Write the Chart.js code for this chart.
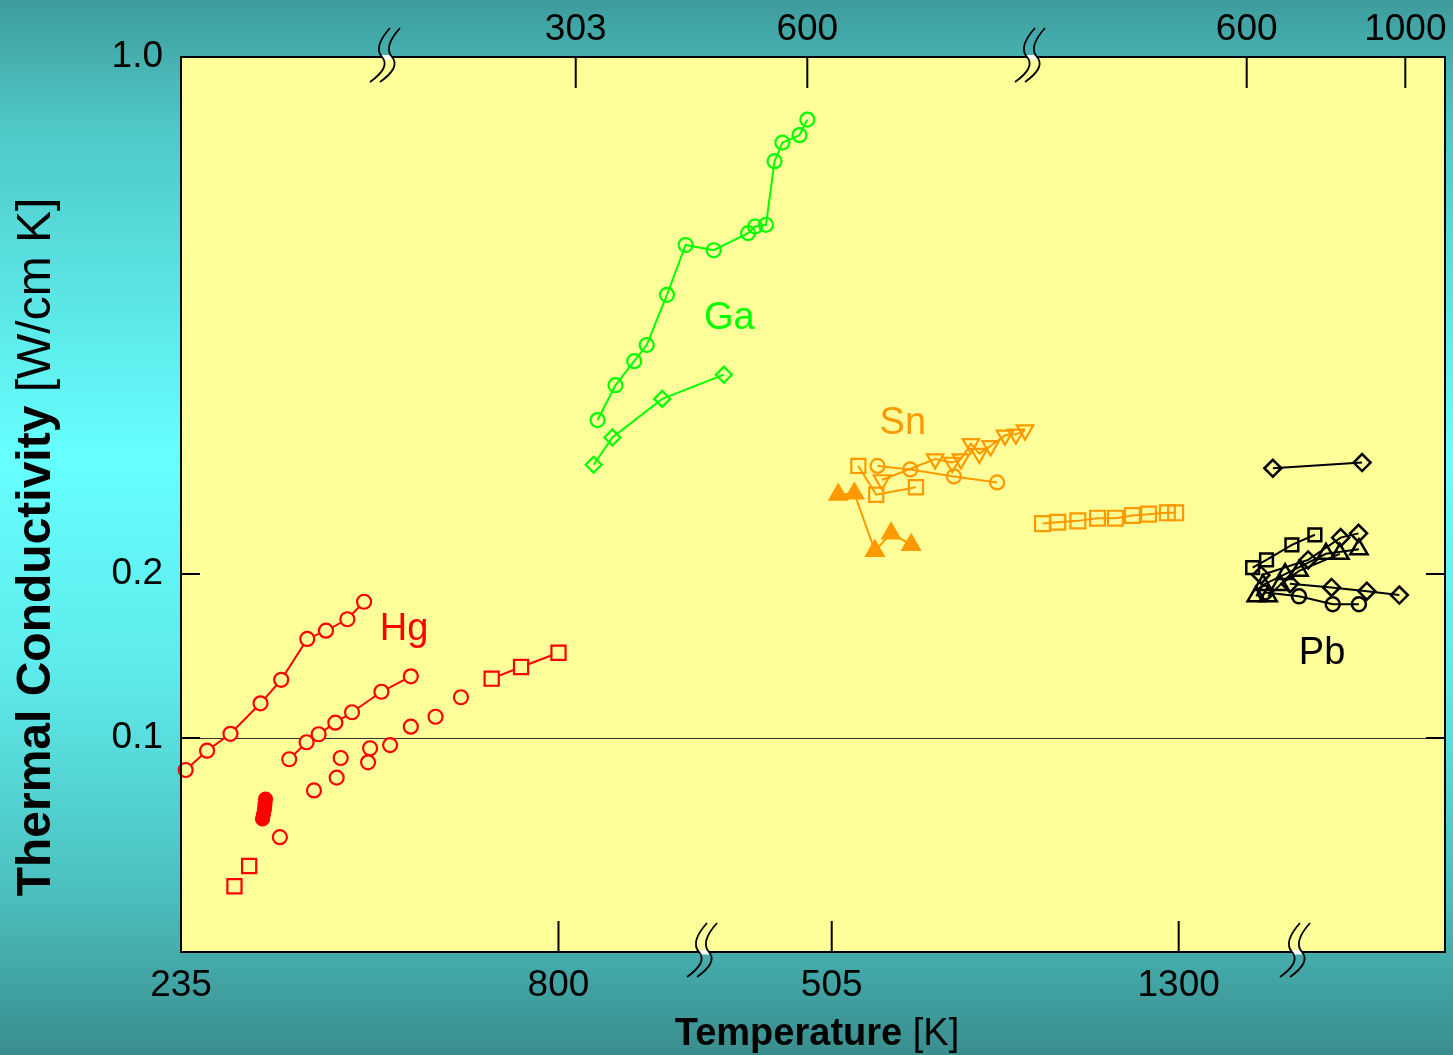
<!DOCTYPE html>
<html>
<head>
<meta charset="utf-8">
<title>Thermal Conductivity of Liquid Metals</title>
<script src="https://cdn.jsdelivr.net/npm/chart.js@4.4.1/dist/chart.umd.min.js"></script>
<style>
  html, body { margin: 0; padding: 0; }
  body {
    width: 1453px; height: 1055px; overflow: hidden;
    background: linear-gradient(to bottom, #3e9c9c 0%, #4fc8c8 12%, #66ffff 43%, #5de8e8 65%, #4bbebe 85%, #3a8d8d 100%);
  }
  canvas { display: block; }
</style>
</head>
<body>
<canvas id="chart" width="1453" height="1055"></canvas>
<script>
// ---- Tick labels ----
const yTicks = [1.0, 0.2, 0.1];
const hgTicks = [235, 800];
const snTicks = [505, 1300];
const gaTicks = [303, 600];
const pbTicks = [600, 1000];

// ---- Mercury (bottom scale, K) ----
const hg1T = [242, 274, 309, 354, 385, 424, 452, 484, 509];
const hg1K = [0.0872, 0.0947, 0.1018, 0.1158, 0.1279, 0.1520, 0.1574, 0.1652, 0.1779];
const hg2T = [397, 423, 441, 466, 491, 535, 579];
const hg2K = [0.0913, 0.0982, 0.1016, 0.1067, 0.1115, 0.1216, 0.1298];
const hg3T = [383, 434, 468, 474, 515, 518, 548, 579, 616, 654];
const hg3K = [0.0654, 0.0799, 0.0844, 0.0918, 0.0901, 0.0957, 0.0970, 0.1049, 0.1094, 0.1188];
const hg4T = [700, 744, 800];
const hg4K = [0.1285, 0.1350, 0.1434];
const hg5T = [315, 337];
const hg5K = [0.0530, 0.0578];
const hg6T = [361.5, 360.7, 360, 358.5, 357];
const hg6K = [0.0770, 0.0754, 0.0738, 0.0722, 0.0707];

// ---- Gallium (top scale, K) ----
const ga1T = [331, 354, 378, 394, 420, 444, 480, 524, 533, 547, 558, 568, 590, 600];
const ga1K = [0.323, 0.360, 0.388, 0.408, 0.477, 0.557, 0.548, 0.578, 0.590, 0.593, 0.723, 0.766, 0.784, 0.823];
const ga2T = [326, 350, 414, 493];
const ga2K = [0.281, 0.306, 0.345, 0.372];

// ---- Tin (bottom scale, K) ----
const sn1T = [566, 607, 698];
const sn1K = [0.280, 0.256, 0.262];
const sn2T = [610, 685, 785, 884];
const sn2K = [0.280, 0.277, 0.271, 0.266];
const sn3T = [620, 742, 781, 801, 824, 843, 869, 902, 927, 948];
const sn3K = [0.268, 0.286, 0.283, 0.286, 0.300, 0.291, 0.298, 0.308, 0.309, 0.313];
const sn4T = [520, 557, 604, 641, 687];
const sn4K = [0.256, 0.257, 0.215, 0.227, 0.219];
const sn5T = [988, 1023, 1069, 1114, 1155, 1194, 1231, 1274, 1293];
const sn5K = [0.234, 0.235, 0.236, 0.238, 0.238, 0.240, 0.241, 0.242, 0.242];

// ---- Lead (top scale, K) ----
const pb1T = [666, 891];
const pb1K = [0.278, 0.283];
const pb2T = [615, 650, 714, 772];
const pb2K = [0.204, 0.209, 0.219, 0.226];
const pb3T = [636, 755, 837, 882];
const pb3K = [0.199, 0.209, 0.224, 0.227];
const pb4T = [624, 641, 697, 800, 883];
const pb4K = [0.182, 0.191, 0.200, 0.213, 0.216];
const pb5T = [654, 684, 732, 835];
const pb5K = [0.182, 0.191, 0.202, 0.213];
const pb6T = [709, 814, 903, 985];
const pb6K = [0.192, 0.189, 0.186, 0.183];
const pb7T = [646, 732, 817, 883];
const pb7K = [0.185, 0.182, 0.176, 0.176];

// Element names drawn inside the plot, placed in data coordinates
const elementLabels = [
  { text: 'Hg', axis: 'xHg', t: 569, k: 0.1585, color: '#FF0000' },
  { text: 'Ga', axis: 'xGa', t: 500, k: 0.4437, color: '#00FF00' },
  { text: 'Sn', axis: 'xSn', t: 668, k: 0.3200, color: '#FF9900' },
  { text: 'Pb', axis: 'xPb', t: 790, k: 0.1432, color: '#000000' }
];

const FONT = "'Liberation Sans', Arial, Helvetica, sans-serif";
const PLOT_BG = '#FFFF99';

// Broken logarithmic axis: log-linear between knots,
// knots are [value, fraction of axis height from the bottom].
const Y_KNOTS = [[0.04, 0], [0.1, 0.2391], [0.2, 0.4223], [1.0, 1]];

class BrokenLogScale extends Chart.LogarithmicScale {
  getPixelForValue(value) {
    if (value === undefined || value === null || !(value > 0)) return NaN;
    const k = Y_KNOTS, lv = Math.log10(value);
    let i = 0;
    while (i < k.length - 2 && lv > Math.log10(k[i + 1][0])) i++;
    const l0 = Math.log10(k[i][0]), l1 = Math.log10(k[i + 1][0]);
    const d = k[i][1] + (lv - l0) / (l1 - l0) * (k[i + 1][1] - k[i][1]);
    return this.getPixelForDecimal(d);
  }
  getValueForPixel(pixel) {
    const d = this.getDecimalForPixel(pixel);
    const k = Y_KNOTS;
    let i = 0;
    while (i < k.length - 2 && d > k[i + 1][1]) i++;
    const l0 = Math.log10(k[i][0]), l1 = Math.log10(k[i + 1][0]);
    return Math.pow(10, l0 + (d - k[i][1]) / (k[i + 1][1] - k[i][1]) * (l1 - l0));
  }
}
BrokenLogScale.id = 'brokenLog';
Chart.register(BrokenLogScale);

function pts(T, K) { return T.map((t, i) => ({ x: t, y: K[i] })); }

function series(T, K, axis, color, style, extra) {
  return Object.assign({
    data: pts(T, K),
    xAxisID: axis,
    yAxisID: 'y',
    showLine: true,
    borderColor: color,
    borderWidth: 2,
    pointBorderColor: color,
    pointBackgroundColor: 'rgba(0,0,0,0)',
    pointBorderWidth: 2.2,
    pointStyle: style,
    pointRadius: 7,
    pointHoverRadius: 7,
    tension: 0,
    clip: false
  }, extra || {});
}

const RED = '#FF0000', GREEN = '#00FF00', ORANGE = '#FF9900', BLACK = '#000000';

const datasets = [
  // Hg
  series(hg1T, hg1K, 'xHg', RED, 'circle', { pointRadius: 7, pointBackgroundColor: PLOT_BG }),
  series(hg2T, hg2K, 'xHg', RED, 'circle', { pointRadius: 7, pointBackgroundColor: PLOT_BG }),
  series(hg3T, hg3K, 'xHg', RED, 'circle', { pointRadius: 7, showLine: false }),
  series(hg4T, hg4K, 'xHg', RED, 'rect', { pointRadius: 10, pointBackgroundColor: PLOT_BG }),
  series(hg5T, hg5K, 'xHg', RED, 'rect', { pointRadius: 10, showLine: false }),
  series(hg6T, hg6K, 'xHg', RED, 'circle', { pointRadius: 6.5, showLine: false, pointBackgroundColor: RED }),
  // Ga
  series(ga1T, ga1K, 'xGa', GREEN, 'circle', { pointRadius: 7 }),
  series(ga2T, ga2K, 'xGa', GREEN, 'rectRot', { pointRadius: 8 }),
  // Sn
  series(sn1T, sn1K, 'xSn', ORANGE, 'rect', { pointRadius: 10 }),
  series(sn2T, sn2K, 'xSn', ORANGE, 'circle', { pointRadius: 7 }),
  series(sn3T, sn3K, 'xSn', ORANGE, 'triangle', { pointRadius: 9.5, pointRotation: 180 }),
  series(sn4T, sn4K, 'xSn', ORANGE, 'triangle', { pointRadius: 10, pointBackgroundColor: ORANGE }),
  series(sn5T, sn5K, 'xSn', ORANGE, 'rect', { pointRadius: 10.5 }),
  // Pb
  series(pb1T, pb1K, 'xPb', BLACK, 'rectRot', { pointRadius: 8.5, pointBorderWidth: 2.5 }),
  series(pb2T, pb2K, 'xPb', BLACK, 'rect', { pointRadius: 9, pointBorderWidth: 2.5 }),
  series(pb3T, pb3K, 'xPb', BLACK, 'rectRot', { pointRadius: 8.5, pointBorderWidth: 2.5 }),
  series(pb4T, pb4K, 'xPb', BLACK, 'triangle', { pointRadius: 10, pointBorderWidth: 2.5 }),
  series(pb5T, pb5K, 'xPb', BLACK, 'triangle', { pointRadius: 10, pointBorderWidth: 2.5 }),
  series(pb6T, pb6K, 'xPb', BLACK, 'rectRot', { pointRadius: 8.5, pointBorderWidth: 2.5 }),
  series(pb7T, pb7K, 'xPb', BLACK, 'circle', { pointRadius: 7, pointBorderWidth: 2.5 })
];

const tickFont = { family: FONT, size: 37, lineHeight: 1.2 };

function xAxis(position, stack, stackWeight, weight, min, max, ticks) {
  const shown = !!ticks;
  return {
    type: 'linear',
    position, stack, stackWeight, weight, min, max,
    afterBuildTicks: shown ? (s) => { s.ticks = ticks.map(v => ({ value: v })); } : undefined,
    afterFit: (s) => {
      s.height = position === 'top' ? 57 : 103;
      s.paddingLeft = 0; s.paddingRight = 0;
    },
    ticks: {
      display: shown,
      autoSkip: false,
      maxRotation: 0,
      minRotation: 0,
      color: '#000',
      font: tickFont,
      padding: position === 'top' ? 5 : 12,
      callback: (v) => String(v)
    },
    grid: { display: false, drawTicks: false },
    border: { display: false }
  };
}

// Axis break marks: two wavy strokes with a white gap across the frame line
function drawBreak(ctx, cx, cy) {
  ctx.save();
  ctx.fillStyle = '#FFFFFF';
  ctx.fillRect(cx - 3, cy - 2, 10, 4.5);
  ctx.strokeStyle = '#000';
  ctx.lineWidth = 1.8;
  for (const dx of [0, 10]) {
    ctx.beginPath();
    ctx.moveTo(cx + 5 + dx, cy - 29);
    ctx.quadraticCurveTo(cx - 12 + dx, cy - 10, cx - 3 + dx, cy);
    ctx.quadraticCurveTo(cx + 6 + dx, cy + 10, cx - 15 + dx, cy + 25);
    ctx.stroke();
  }
  ctx.restore();
}

function mixedText(ctx, parts, x, y) {
  let total = 0;
  parts.forEach(p => { ctx.font = p.font; p.w = ctx.measureText(p.text).width; total += p.w; });
  let cx = x - total / 2;
  ctx.textAlign = 'left';
  parts.forEach(p => { ctx.font = p.font; ctx.fillText(p.text, cx, y); cx += p.w; });
}

const decor = {
  id: 'decor',
  beforeDraw(chart) {
    const { ctx, chartArea: a } = chart;
    ctx.save();
    ctx.fillStyle = PLOT_BG;
    ctx.fillRect(a.left, a.top, a.right - a.left, a.bottom - a.top);
    ctx.restore();
  },
  afterDraw(chart) {
    const { ctx, chartArea: a, scales } = chart;
    ctx.save();
    ctx.strokeStyle = '#000';
    ctx.lineWidth = 2;
    ctx.strokeRect(a.left, a.top, a.right - a.left, a.bottom - a.top);

    // inward x ticks
    ctx.beginPath();
    for (const id of ['xHg', 'xSn', 'xGa', 'xPb']) {
      const s = scales[id];
      const top = s.position === 'top';
      s.ticks.forEach(t => {
        const px = s.getPixelForValue(t.value);
        if (px < a.left + 3 || px > a.right - 3) return;
        ctx.moveTo(px, top ? a.top : a.bottom);
        ctx.lineTo(px, top ? a.top + 31 : a.bottom - 31);
      });
    }
    // inward y ticks on both sides
    scales.y.ticks.forEach(t => {
      const py = scales.y.getPixelForValue(t.value);
      ctx.moveTo(a.left, py); ctx.lineTo(a.left + 19, py);
      ctx.moveTo(a.right - 19, py); ctx.lineTo(a.right, py);
    });
    ctx.stroke();

    // axis breaks at the joins of the stacked x scales
    drawBreak(ctx, scales.xGa.left, a.top);
    drawBreak(ctx, scales.xPb.left, a.top);
    drawBreak(ctx, scales.xSn.left, a.bottom);
    drawBreak(ctx, scales.xEnd.left, a.bottom);

    // element names
    ctx.textAlign = 'center';
    ctx.textBaseline = 'middle';
    ctx.font = `38px ${FONT}`;
    elementLabels.forEach(l => {
      ctx.fillStyle = l.color;
      ctx.fillText(l.text, scales[l.axis].getPixelForValue(l.t), scales.y.getPixelForValue(l.k));
    });

    // axis titles
    ctx.fillStyle = '#000';
    ctx.textBaseline = 'alphabetic';
    mixedText(ctx, [
      { text: 'Temperature', font: `bold 38px ${FONT}` },
      { text: ' [K]', font: `38px ${FONT}` }
    ], 817, 1045);

    ctx.translate(50, 547);
    ctx.rotate(-Math.PI / 2);
    mixedText(ctx, [
      { text: 'Thermal Conductivity', font: `bold 48px ${FONT}` },
      { text: ' [W/cm K]', font: `48px ${FONT}` }
    ], 0, 0);
    ctx.restore();
  }
};

new Chart(document.getElementById('chart'), {
  type: 'scatter',
  data: { datasets },
  plugins: [decor],
  options: {
    responsive: false,
    devicePixelRatio: 1,
    animation: false,
    events: [],
    layout: { autoPadding: false, padding: { left: 0, top: 0, right: 8, bottom: 0 } },
    plugins: { legend: { display: false }, tooltip: { enabled: false } },
    scales: {
      y: {
        type: 'brokenLog',
        position: 'left',
        min: 0.04,
        max: 1.0,
        afterBuildTicks: (s) => { s.ticks = yTicks.map(v => ({ value: v })); },
        afterFit: (s) => { s.width = 181; s.paddingTop = 0; s.paddingBottom = 0; },
        ticks: {
          callback: (v) => Number(v).toFixed(1),
          autoSkip: false,
          color: '#000',
          font: tickFont,
          padding: 18
        },
        grid: {
          drawTicks: false,
          lineWidth: 1,
          color: (c) => (c.tick && Math.abs(c.tick.value - 0.1) < 1e-9) ? '#333333' : 'rgba(0,0,0,0)'
        },
        border: { display: false }
      },
      // bottom: Hg | Sn | (Pb region)
      xHg: xAxis('bottom', 'bottom', 521, 1, 235, 1014.8, hgTicks),
      xSn: xAxis('bottom', 'bottom', 593, 2, 207.8, 1566.5, snTicks),
      xEnd: xAxis('bottom', 'bottom', 150, 3, 0, 1, null),
      // top: (Hg region) | Ga | Pb
      xStart: xAxis('top', 'top', 204, 3, 0, 1, null),
      xGa: xAxis('top', 'top', 645, 2, 58.4, 885.6, gaTicks),
      xPb: xAxis('top', 'top', 415, 1, 53.5, 1100.1, pbTicks)
    }
  }
});
</script>
</body>
</html>
